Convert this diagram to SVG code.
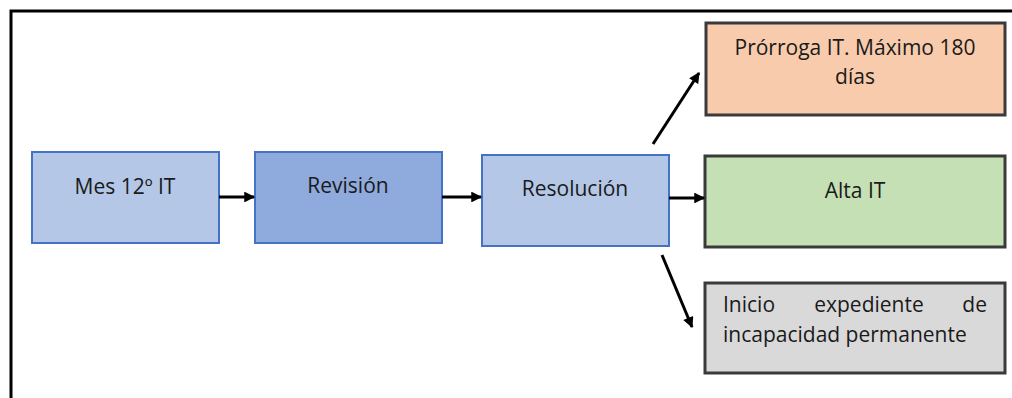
<svg xmlns="http://www.w3.org/2000/svg" width="1012" height="398" viewBox="0 0 1012 398">
  <style>
    .blue { stroke: #4472C4; stroke-width: 2; }
    .dark { stroke: #3a3a3a; stroke-width: 3; }
    .lbl { font-family: "Open Sans", "Noto Sans", sans-serif; font-size: 21px; fill: #1a1a1a; }
    .mid { text-anchor: middle; }
    .conn { stroke: #000; stroke-width: 3; fill: none; marker-end: url(#arrow); }
  </style>
  <defs>
    <marker id="arrow" viewBox="0 0 10 10" refX="9" refY="5" markerWidth="4" markerHeight="3.6" orient="auto" markerUnits="strokeWidth">
      <path d="M0,0 L10,5 L0,10 Z" fill="#000"/>
    </marker>
  </defs>

  <rect width="1012" height="398" fill="#fff"/>

  <!-- outer frame (top and left edges) -->
  <path d="M11,398 V11 H1012" fill="none" stroke="#000" stroke-width="3"/>

  <g id="node-mes12">
    <rect class="blue" x="32" y="152" width="187" height="91" fill="#B4C7E7"/>
    <text class="lbl mid" x="125" y="194">Mes 12º IT</text>
  </g>

  <g id="node-revision">
    <rect class="blue" x="255" y="152" width="187" height="91" fill="#8FAADC"/>
    <text class="lbl mid" x="348" y="193">Revisión</text>
  </g>

  <g id="node-resolucion">
    <rect class="blue" x="482" y="155" width="187" height="91" fill="#B4C7E7"/>
    <text class="lbl mid" x="575" y="196">Resolución</text>
  </g>

  <g id="node-prorroga">
    <rect class="dark" x="706" y="23" width="299" height="92" fill="#F8CBAD"/>
    <text class="lbl mid" x="855" y="55">Prórroga IT. Máximo 180</text>
    <text class="lbl mid" x="855" y="84">días</text>
  </g>

  <g id="node-alta">
    <rect class="dark" x="705" y="156" width="300" height="91" fill="#C5E0B4"/>
    <text class="lbl mid" x="855" y="198">Alta IT</text>
  </g>

  <g id="node-inicio">
    <rect class="dark" x="705" y="283" width="300" height="90" fill="#D9D9D9"/>
    <!-- justified first line: words spread across the box width -->
    <text class="lbl" x="723" y="312">Inicio</text>
    <text class="lbl mid" x="869" y="312">expediente</text>
    <text class="lbl" x="987" y="312" text-anchor="end">de</text>
    <text class="lbl" x="723" y="342">incapacidad permanente</text>
  </g>

  <g id="connectors">
    <line class="conn" x1="219" y1="197" x2="254" y2="197"/>
    <line class="conn" x1="442" y1="197" x2="481" y2="197"/>
    <line class="conn" x1="669" y1="198" x2="704" y2="198"/>
    <line class="conn" x1="653" y1="144" x2="699" y2="73"/>
    <line class="conn" x1="662" y1="255" x2="692" y2="327"/>
  </g>
</svg>
